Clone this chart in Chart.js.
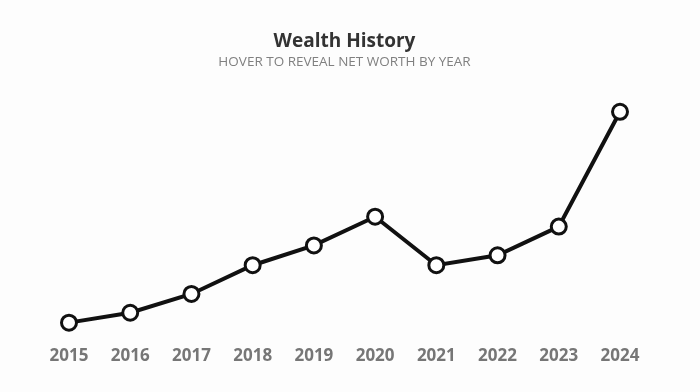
<!DOCTYPE html>
<html><head><meta charset="utf-8">
<script src="https://cdn.jsdelivr.net/npm/chart.js@4/dist/chart.umd.min.js"></script>
<style>html,body{margin:0;padding:0;background:#fdfdfd;}#wrap{width:700px;height:392px;position:relative;}</style>
</head><body><div id="wrap"><canvas id="c"></canvas></div>
<script>
const years = ['2015','2016','2017','2018','2019','2020','2021','2022','2023','2024'];
const netWorth = [17, 27, 46, 75, 95, 124, 75, 85, 114, 230];
const titleText = 'Wealth History';
const subtitleText = 'HOVER TO REVEAL NET WORTH BY YEAR';

new Chart(document.getElementById('c'), {
  type: 'line',
  data: { labels: years, datasets: [{
    data: netWorth,
    borderColor: '#111',
    borderWidth: 4,
    pointRadius: 7.5,
    pointBorderWidth: 3,
    pointBackgroundColor: '#fff',
    pointBorderColor: '#111',
    tension: 0,
    clip: false
  }]},
  options: {
    responsive: true, maintainAspectRatio: false, animation: false,
    layout: { padding: { left: 69, right: 80, top: 22, bottom: 16 } },
    plugins: {
      legend: { display: false },
      tooltip: { enabled: false },
      title: { display: true, text: titleText, color: '#333', font: { family: 'Open Sans', size: 19, weight: '700' }, padding: { top: 8, bottom: 1 } },
      subtitle: { display: true, text: subtitleText, color: '#808080', font: { family: 'Open Sans', size: 13.5, weight: '400' }, padding: { bottom: 20 } }
    },
    scales: {
      x: { grid: { display: false }, border: { display: false },
           ticks: { color: '#767676', font: { family: 'Open Sans', size: 17, weight: '700' }, padding: 10, maxRotation: 0 } },
      y: { display: false, min: 12, max: 252 }
    }
  }
});
</script></body></html>
